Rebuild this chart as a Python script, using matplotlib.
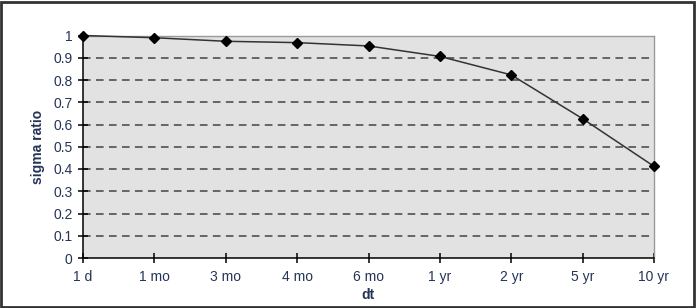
import matplotlib
matplotlib.use("Agg")
import matplotlib.pyplot as plt
from matplotlib.patches import Rectangle

# data
horizons = ["1 d", "1 mo", "3 mo", "4 mo", "6 mo", "1 yr", "2 yr", "5 yr", "10 yr"]
sigma_ratio = [1.0, 0.990, 0.974, 0.968, 0.953, 0.906, 0.823, 0.626, 0.412]
y_ticks = [0, 0.1, 0.2, 0.3, 0.4, 0.5, 0.6, 0.7, 0.8, 0.9, 1]

text_color = "#253455"

plt.rcParams["font.family"] = ["Liberation Sans", "DejaVu Sans"]

fig = plt.figure(figsize=(6.96, 3.08), dpi=100)
ax = fig.add_axes([83 / 696, 50 / 308, 571 / 696, 222.5 / 308])
ax.set_facecolor("#e2e2e2")

x = list(range(len(horizons)))
ax.plot(x, sigma_ratio, color="#333333", lw=1.1, marker="D", ms=5.5,
        mfc="black", mec="black", clip_on=False, zorder=5)

ax.set_xlim(0, len(horizons) - 1)
ax.set_ylim(0, 1)
ax.set_xticks(x)
ax.set_xticklabels(horizons)
ax.set_yticks(y_ticks)
ax.set_yticklabels([f"{v:g}" for v in y_ticks])

for v in y_ticks[1:-1]:
    ax.axhline(v, color="#444444", lw=1.1, ls=(0, (5, 3.5)), zorder=1)

ax.tick_params(axis="both", direction="inout", length=7, width=1.1,
               colors="black", labelcolor=text_color, labelsize=10)
ax.tick_params(axis="y", pad=4)
ax.tick_params(axis="x", pad=5)

for side in ("left", "bottom"):
    ax.spines[side].set_color("black")
    ax.spines[side].set_linewidth(1.1)
for side in ("top", "right"):
    ax.spines[side].set_color("#9a9a9a")
    ax.spines[side].set_linewidth(1.0)

ax.set_ylabel("sigma ratio", fontsize=10, fontweight="bold", color=text_color, labelpad=6)
ax.set_xlabel("dt", fontsize=10, fontweight="bold", color=text_color, labelpad=3)

# outer frame around the figure
fig.patches.append(Rectangle((0.002, 0.004), 0.995, 0.99, transform=fig.transFigure,
                             fill=False, edgecolor="#333333", lw=2))

fig.savefig("out.png", dpi=100)
